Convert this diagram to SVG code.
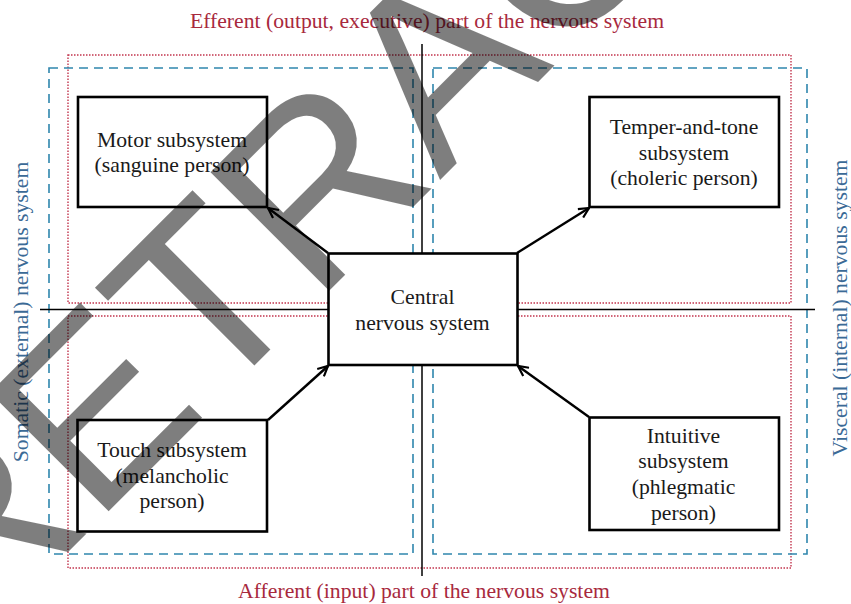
<svg xmlns="http://www.w3.org/2000/svg" width="851" height="604" viewBox="0 0 851 604">
<style>
.t{font-family:"Liberation Serif","Times New Roman",serif;font-size:21.7px;fill:#1a1a1a;text-anchor:middle}
.red{fill:#a8293d}
.blue{fill:#3b6a96}
.box{fill:#fff;stroke:#000;stroke-width:2.6}
.dot{fill:none;stroke:#c2354d;stroke-width:1.4;stroke-dasharray:1.5 1.5}
.dash{fill:none;stroke:#2f86ad;stroke-width:1.6;stroke-dasharray:9 6}
.axis{stroke:#000;stroke-width:1.5;fill:none}
.arr{stroke:#000;stroke-width:2.4;fill:none;marker-end:url(#ah)}
</style>
<defs>
<marker id="ah" viewBox="0 0 12 12" refX="11" refY="6" markerWidth="12" markerHeight="12" markerUnits="userSpaceOnUse" orient="auto">
<path d="M1,1 L11,6 L1,11" fill="none" stroke="#000" stroke-width="2.2"/>
</marker>
</defs>
<rect width="851" height="604" fill="#fff"/>
<g id="regions">
<rect class="dot" x="68" y="55" width="723" height="248"/>
<rect class="dot" x="68" y="316" width="723" height="252"/>
<rect class="dash" x="49" y="68" width="364" height="486"/>
<rect class="dash" x="433" y="68" width="374" height="486"/>
<line class="axis" x1="422" y1="44" x2="422" y2="576"/>
<line class="axis" x1="40" y1="309.5" x2="815" y2="309.5"/>
</g>
<g id="labels">
<text class="t red" x="427" y="28">Efferent (output, executive) part of the nervous system</text>
<text class="t red" x="424" y="598">Afferent (input) part of the nervous system</text>
<text class="t blue" transform="translate(28,312) rotate(-90)">Somatic (external) nervous system</text>
<text class="t blue" transform="translate(846.5,308) rotate(-90)">Visceral (internal) nervous system</text>
</g>
<g id="connectors">
<line class="arr" x1="328" y1="253" x2="268" y2="208"/>
<line class="arr" x1="517" y1="253" x2="589" y2="208"/>
<line class="arr" x1="268" y1="420" x2="328" y2="366"/>
<line class="arr" x1="589" y1="417" x2="518" y2="366"/>
</g>
<g id="central">
<rect class="box" x="328.5" y="253.5" width="189" height="111.5"/>
<text class="t" x="422.5" y="303.5">Central</text>
<text class="t" x="422.5" y="330">nervous system</text>
</g>
<g id="motor">
<rect class="box" x="78" y="97" width="189" height="110"/>
<text class="t" x="172" y="146.5">Motor subsystem</text>
<text class="t" x="172" y="171.5">(sanguine person)</text>
</g>
<g id="temper">
<rect class="box" x="589.5" y="97" width="189.5" height="110"/>
<text class="t" x="684" y="133.5">Temper-and-tone</text>
<text class="t" x="684" y="159.5">subsystem</text>
<text class="t" x="684" y="185">(choleric person)</text>
</g>
<g id="touch">
<rect class="box" x="77.5" y="420" width="189.5" height="111.5"/>
<text class="t" x="172" y="456.7">Touch subsystem</text>
<text class="t" x="172" y="482.7">(melancholic</text>
<text class="t" x="172" y="508.3">person)</text>
</g>
<g id="intuitive">
<rect class="box" x="589.5" y="417.5" width="189.5" height="112.5"/>
<text class="t" x="683.5" y="443.3">Intuitive</text>
<text class="t" x="683.5" y="468.3">subsystem</text>
<text class="t" x="683.5" y="494.3">(phlegmatic</text>
<text class="t" x="683.5" y="520">person)</text>
</g>
<g id="watermark">
<text x="0" y="0" transform="translate(-30,650) rotate(-45)" style="font-family:'Liberation Sans',Arial,sans-serif;font-size:244px;fill:#000;opacity:0.5">RETRACTED</text>
</g>
</svg>
